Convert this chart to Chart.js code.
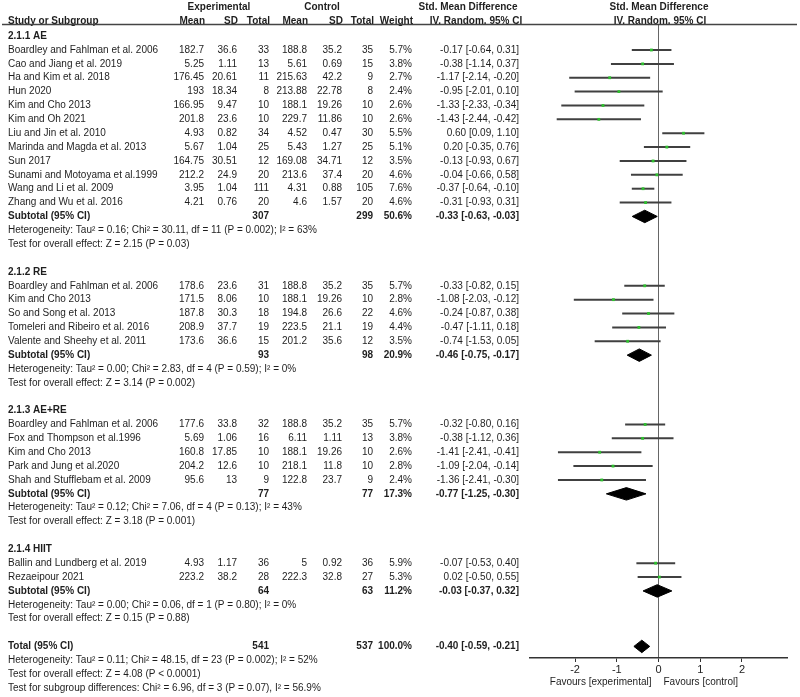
<!DOCTYPE html>
<html>
<head>
<meta charset="utf-8">
<script src="https://cdn.jsdelivr.net/npm/chart.js@4.4.1/dist/chart.umd.min.js"></script>
<style>
  body { margin: 0; background: #fff; }
  canvas { display: block; }
</style>
</head>
<body>
<canvas id="forest" width="800" height="697"></canvas>
<script>
// subgroups
const groupNames = ['2.1.1 AE', '2.1.2 RE', '2.1.3 AE+RE', '2.1.4 HIIT'];
const groupSizes = [12, 5, 5, 2];

// studies (in order of appearance)
const studyNames = [
    'Boardley and Fahlman et al. 2006', 'Cao and Jiang et al. 2019', 'Ha and Kim et al. 2018', 'Hun 2020',
    'Kim and Cho 2013', 'Kim and Oh 2021', 'Liu and Jin et al. 2010', 'Marinda and Magda et al. 2013',
    'Sun 2017', 'Sunami and Motoyama et al.1999', 'Wang and Li et al. 2009', 'Zhang and Wu et al. 2016',
    'Boardley and Fahlman et al. 2006', 'Kim and Cho 2013', 'So and Song et al. 2013',
    'Tomeleri and Ribeiro et al. 2016', 'Valente and Sheehy et al. 2011',
    'Boardley and Fahlman et al. 2006', 'Fox and Thompson et al.1996', 'Kim and Cho 2013',
    'Park and Jung et al.2020', 'Shah and Stufflebam et al. 2009',
    'Ballin and Lundberg et al. 2019', 'Rezaeipour 2021'
];
const expMean = [182.7, 5.25, 176.45, 193, 166.95, 201.8, 4.93, 5.67, 164.75, 212.2, 3.95, 4.21,
    178.6, 171.5, 187.8, 208.9, 173.6, 177.6, 5.69, 160.8, 204.2, 95.6, 4.93, 223.2];
const expSD = [36.6, 1.11, 20.61, 18.34, 9.47, 23.6, 0.82, 1.04, 30.51, 24.9, 1.04, 0.76,
    23.6, 8.06, 30.3, 37.7, 36.6, 33.8, 1.06, 17.85, 12.6, 13, 1.17, 38.2];
const expN = [33, 13, 11, 8, 10, 10, 34, 25, 12, 20, 111, 20, 31, 10, 18, 19, 15, 32, 16, 10, 10, 9, 36, 28];
const ctlMean = [188.8, 5.61, 215.63, 213.88, 188.1, 229.7, 4.52, 5.43, 169.08, 213.6, 4.31, 4.6,
    188.8, 188.1, 194.8, 223.5, 201.2, 188.8, 6.11, 188.1, 218.1, 122.8, 5, 222.3];
const ctlSD = [35.2, 0.69, 42.2, 22.78, 19.26, 11.86, 0.47, 1.27, 34.71, 37.4, 0.88, 1.57,
    35.2, 19.26, 26.6, 21.1, 35.6, 35.2, 1.11, 19.26, 11.8, 23.7, 0.92, 32.8];
const ctlN = [35, 15, 9, 8, 10, 10, 30, 25, 12, 20, 105, 20, 35, 10, 22, 19, 12, 35, 13, 10, 10, 9, 36, 27];
const weight = [5.7, 3.8, 2.7, 2.4, 2.6, 2.6, 5.5, 5.1, 3.5, 4.6, 7.6, 4.6,
    5.7, 2.8, 4.6, 4.4, 3.5, 5.7, 3.8, 2.6, 2.8, 2.4, 5.9, 5.3];
const smd = [-0.17, -0.38, -1.17, -0.95, -1.33, -1.43, 0.60, 0.20, -0.13, -0.04, -0.37, -0.31,
    -0.33, -1.08, -0.24, -0.47, -0.74, -0.32, -0.38, -1.41, -1.09, -1.36, -0.07, 0.02];
const ciLow = [-0.64, -1.14, -2.14, -2.01, -2.33, -2.44, 0.09, -0.35, -0.93, -0.66, -0.64, -0.93,
    -0.82, -2.03, -0.87, -1.11, -1.53, -0.80, -1.12, -2.41, -2.04, -2.41, -0.53, -0.50];
const ciHigh = [0.31, 0.37, -0.20, 0.10, -0.34, -0.42, 1.10, 0.76, 0.67, 0.58, -0.10, 0.31,
    0.15, -0.12, 0.38, 0.18, 0.05, 0.16, 0.36, -0.41, -0.14, -0.30, 0.40, 0.55];

// subtotals per subgroup
const subExpN = [307, 93, 77, 64];
const subCtlN = [299, 98, 77, 63];
const subWeight = [50.6, 20.9, 17.3, 11.2];
const subSmd = [-0.33, -0.46, -0.77, -0.03];
const subLow = [-0.63, -0.75, -1.25, -0.37];
const subHigh = [-0.03, -0.17, -0.30, 0.32];
const subHet = [
    'Heterogeneity: Tau\u00b2 = 0.16; Chi\u00b2 = 30.11, df = 11 (P = 0.002); I\u00b2 = 63%',
    'Heterogeneity: Tau\u00b2 = 0.00; Chi\u00b2 = 2.83, df = 4 (P = 0.59); I\u00b2 = 0%',
    'Heterogeneity: Tau\u00b2 = 0.12; Chi\u00b2 = 7.06, df = 4 (P = 0.13); I\u00b2 = 43%',
    'Heterogeneity: Tau\u00b2 = 0.00; Chi\u00b2 = 0.06, df = 1 (P = 0.80); I\u00b2 = 0%'
];
const subTest = [
    'Test for overall effect: Z = 2.15 (P = 0.03)',
    'Test for overall effect: Z = 3.14 (P = 0.002)',
    'Test for overall effect: Z = 3.18 (P = 0.001)',
    'Test for overall effect: Z = 0.15 (P = 0.88)'
];

// overall
const totalExpN = 541;
const totalCtlN = 537;
const totalWeight = 100.0;
const totalSmd = -0.40, totalLow = -0.59, totalHigh = -0.21;
const totalNotes = [
    'Heterogeneity: Tau\u00b2 = 0.11; Chi\u00b2 = 48.15, df = 23 (P = 0.002); I\u00b2 = 52%',
    'Test for overall effect: Z = 4.08 (P < 0.0001)',
    'Test for subgroup differences: Chi\u00b2 = 6.96, df = 3 (P = 0.07), I\u00b2 = 56.9%'
];
const xTicks = [-2, -1, 0, 1, 2];

// row layout
const groupRow = [], studyRow = [], subRow = [];
let start = -1;
groupSizes.forEach((n, g) => {
    groupRow.push(start);
    for (let k = 1; k <= n; k++) studyRow.push(start + k);
    subRow.push(start + n + 1);
    start += n + 5;
});
const totalRow = start;

const fmt = v => v.toFixed(2);
const ciText = (e, l, h) => fmt(e) + ' [' + fmt(l) + ', ' + fmt(h) + ']';
const DH = 0.45; // diamond half height in rows

const datasets = [];
datasets.push({
    type: 'scatter',
    data: smd.map((v, i) => ({ x: v, y: studyRow[i] })),
    pointStyle: 'rect',
    pointRadius: 2,
    backgroundColor: '#2fbf2f',
    borderWidth: 0,
    order: 0
});
smd.forEach((v, i) => {
    datasets.push({
        type: 'line',
        data: [{ x: ciLow[i], y: studyRow[i] }, { x: ciHigh[i], y: studyRow[i] }],
        borderColor: '#404040',
        borderWidth: 2,
        pointRadius: 0,
        fill: false,
        order: 1
    });
});
const diamonds = subSmd.map((v, g) => [v, subLow[g], subHigh[g], subRow[g]])
    .concat([[totalSmd, totalLow, totalHigh, totalRow]]);
diamonds.forEach(([e, l, h, r]) => {
    datasets.push({
        type: 'line',
        data: [{ x: l, y: r }, { x: e, y: r - DH }, { x: h, y: r }, { x: e, y: r + DH }, { x: l, y: r }],
        borderColor: '#000',
        backgroundColor: '#000',
        borderWidth: 1,
        pointRadius: 0,
        tension: 0,
        fill: 'shape',
        order: 1
    });
});

const tablePlugin = {
    id: 'forestTable',
    afterDraw(chart) {
        const ctx = chart.ctx;
        const ys = chart.scales.y;
        const xs = chart.scales.x;
        const cols = [204, 237, 269, 307, 342, 373, 412, 519];
        function txt(s, x, row, align, bold) {
            ctx.font = (bold ? 'bold ' : '') + '10px "Liberation Sans", Arial, sans-serif';
            ctx.textAlign = align;
            ctx.fillText(String(s), x, ys.getPixelForValue(row));
        }
        ctx.save();
        ctx.fillStyle = '#1e1e1e';
        ctx.textBaseline = 'middle';

        // header
        txt('Experimental', 219, -3.1, 'center', true);
        txt('Control', 322, -3.1, 'center', true);
        txt('Std. Mean Difference', 468, -3.1, 'center', true);
        txt('Std. Mean Difference', 659, -3.1, 'center', true);
        txt('Study or Subgroup', 8, -2.05, 'left', true);
        ['Mean', 'SD', 'Total', 'Mean', 'SD', 'Total', 'Weight'].forEach((h, k) => txt(h, cols[k] + 1, -2.05, 'right', true));
        txt('IV. Random. 95% CI', 476, -2.05, 'center', true);
        txt('IV. Random. 95% CI', 660, -2.05, 'center', true);

        ctx.strokeStyle = '#444';
        ctx.lineWidth = 1.5;
        ctx.beginPath();
        ctx.moveTo(2, chart.chartArea.top + 0.5);
        ctx.lineTo(797, chart.chartArea.top + 0.5);
        ctx.stroke();

        groupNames.forEach((name, g) => {
            txt(name, 8, groupRow[g], 'left', true);
            const r = subRow[g];
            txt('Subtotal (95% CI)', 8, r, 'left', true);
            txt(subExpN[g], cols[2], r, 'right', true);
            txt(subCtlN[g], cols[5], r, 'right', true);
            txt(subWeight[g].toFixed(1) + '%', cols[6], r, 'right', true);
            txt(ciText(subSmd[g], subLow[g], subHigh[g]), cols[7], r, 'right', true);
            txt(subHet[g], 8, r + 1, 'left', false);
            txt(subTest[g], 8, r + 2, 'left', false);
        });
        studyNames.forEach((name, i) => {
            const r = studyRow[i];
            txt(name, 8, r, 'left', false);
            [expMean[i], expSD[i], expN[i], ctlMean[i], ctlSD[i], ctlN[i]].forEach((v, k) => txt(v, cols[k], r, 'right', false));
            txt(weight[i].toFixed(1) + '%', cols[6], r, 'right', false);
            txt(ciText(smd[i], ciLow[i], ciHigh[i]), cols[7], r, 'right', false);
        });
        txt('Total (95% CI)', 8, totalRow, 'left', true);
        txt(totalExpN, cols[2], totalRow, 'right', true);
        txt(totalCtlN, cols[5], totalRow, 'right', true);
        txt(totalWeight.toFixed(1) + '%', cols[6], totalRow, 'right', true);
        txt(ciText(totalSmd, totalLow, totalHigh), cols[7], totalRow, 'right', true);
        totalNotes.forEach((s, k) => txt(s, 8, totalRow + 1 + k, 'left', false));

        // favours labels under the axis
        ctx.font = '10px "Liberation Sans", Arial, sans-serif';
        const x0 = xs.getPixelForValue(0);
        ctx.textAlign = 'right';
        ctx.fillText('Favours [experimental]', x0 - 7, 682);
        ctx.textAlign = 'left';
        ctx.fillText('Favours [control]', x0 + 5, 682);
        ctx.restore();
    }
};

Chart.defaults.font.family = '"Liberation Sans", Arial, sans-serif';
Chart.defaults.color = '#222';

new Chart(document.getElementById('forest'), {
    data: { datasets: datasets },
    options: {
        responsive: false,
        devicePixelRatio: 1,
        animation: false,
        layout: { padding: { left: 530, right: 13, top: 24, bottom: 0 } },
        plugins: { legend: { display: false }, tooltip: { enabled: false } },
        scales: {
            x: {
                type: 'linear',
                min: -3.08,
                max: 3.08,
                afterBuildTicks: s => { s.ticks = xTicks.map(v => ({ value: v })); },
                afterFit: s => { s.height = 39; },
                ticks: { font: { size: 11 }, color: '#222', padding: 1 },
                grid: {
                    drawOnChartArea: true,
                    color: c => (c.tick && c.tick.value === 0) ? '#666' : 'rgba(0,0,0,0)',
                    tickColor: '#333',
                    tickLength: 4
                },
                border: { color: '#333', width: 1.5 }
            },
            y: {
                type: 'linear',
                display: false,
                reverse: true,
                min: -1.875,
                max: 43.836
            }
        }
    },
    plugins: [tablePlugin]
});
</script>
</body>
</html>
